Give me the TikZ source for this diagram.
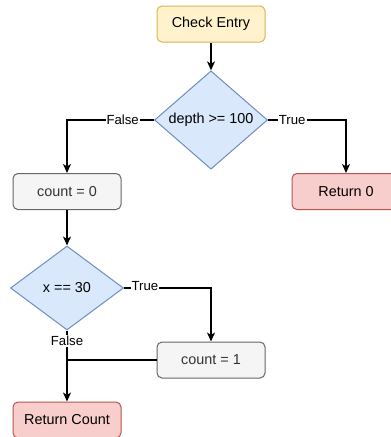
\documentclass[tikz,border=0pt]{standalone}
\usepackage{fontspec}
\setmainfont{Liberation Sans}
\usetikzlibrary{arrows.meta, positioning, shapes.geometric}

\definecolor{yellowfill}{HTML}{FFF2CC}
\definecolor{yellowline}{HTML}{D6B656}
\definecolor{bluefill}{HTML}{DAE8FC}
\definecolor{blueline}{HTML}{6C8EBF}
\definecolor{greyfill}{HTML}{F5F5F5}
\definecolor{greyline}{HTML}{666666}
\definecolor{redfill}{HTML}{F8CECC}
\definecolor{redline}{HTML}{B85450}

\begin{document}
\begin{tikzpicture}[
    x=1pt, y=-1pt,
    font=\fontsize{14.4}{16}\selectfont,
    box/.style={rectangle, rounded corners=5pt, draw, line width=1pt, minimum width=108pt, minimum height=36pt, inner sep=0pt},
    decision/.style={diamond, draw=blueline, fill=bluefill, line width=1pt, inner sep=0pt, minimum width=113pt, minimum height=84pt},
    yellowbox/.style={box, draw=yellowline, fill=yellowfill},
    greybox/.style={box, draw=greyline, fill=greyfill, text=black!80},
    redbox/.style={box, draw=redline, fill=redfill},
    flow/.style={draw, line width=1.3pt, -{Stealth[length=9pt, width=8pt, inset=2.5pt]}},
    branch/.style={fill=white, inner sep=1pt, font=\fontsize{13.2}{14}\selectfont}
]
\useasboundingbox (0,0) rectangle (391,437);
\clip (0,0) rectangle (391,437);

% boxes and decisions
\node[yellowbox] (entry) at (211,24) {Check Entry};
\node[decision] (depth) at (211,120) {depth >= 100};
\node[greybox] (count0) at (67,191.5) {count = 0};
\node[redbox] (ret0) at (346,191.5) {Return 0};
\node[decision] (xeq) at (67,288) {x == 30};
\node[greybox] (count1) at (211,360) {count = 1};
\node[redbox] (retcount) at (67,420) {Return Count};

\coordinate (join) at (xeq.south |- count1.west);

% connectors
\draw[flow] (entry) -- (depth);
\draw[flow] (depth.west) -| node[branch, pos=0.18] {False} (count0.north);
\draw[flow] (depth.east) -| node[branch, pos=0.155] {True} (ret0.north);

\draw[flow] (count0) -- (xeq);
\draw[flow] (xeq.east) -| node[branch, pos=0.12, yshift=2pt] {True} (count1.north);
\draw[flow] (xeq.south) -- node[branch, pos=0.15] {False} (retcount.north);
\draw[line width=1.3pt] (count1.west) -- (join);

\end{tikzpicture}
\end{document}
